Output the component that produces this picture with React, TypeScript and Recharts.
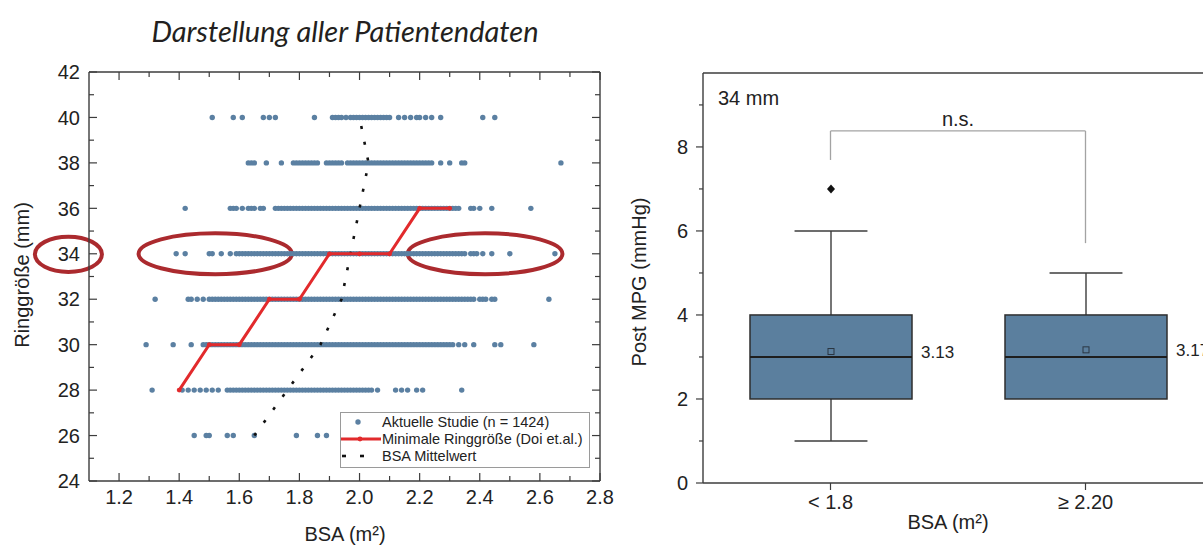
import React from 'react'
import {
  ScatterChart,
  Scatter,
  XAxis,
  YAxis,
  ReferenceArea,
  ComposedChart,
  Bar,
  ReferenceLine,
} from 'recharts'

// --- left panel: ring size vs. BSA ---
const ringSizes = [40, 38, 36, 34, 32, 30, 28, 26]

const bsa40 = [1.51, 1.58, 1.61, 1.68, 1.7, 1.72, 1.85, 1.91, 1.92, 1.93, 1.94, 1.955, 1.97, 1.98, 1.99, 2, 2.01, 2.02, 2.03, 2.04, 2.05, 2.06, 2.07, 2.08, 2.09, 2.1, 2.13, 2.15, 2.17, 2.19, 2.2, 2.22, 2.24, 2.27, 2.41, 2.45]
const bsa38 = [1.63, 1.64, 1.65, 1.69, 1.74, 1.78, 1.79, 1.8, 1.81, 1.82, 1.83, 1.84, 1.85, 1.86, 1.89, 1.9, 1.91, 1.92, 1.93, 1.94, 1.96, 1.97, 1.98, 1.99, 2, 2.01, 2.02, 2.03, 2.04, 2.05, 2.06, 2.07, 2.08, 2.09, 2.1, 2.11, 2.12, 2.13, 2.14, 2.15, 2.16, 2.17, 2.18, 2.19, 2.2, 2.21, 2.22, 2.23, 2.24, 2.27, 2.3, 2.34, 2.35, 2.67]
const bsa36 = [1.42, 1.57, 1.58, 1.59, 1.61, 1.63, 1.64, 1.65, 1.67, 1.68, 1.72, 1.73, 1.74, 1.75, 1.76, 1.77, 1.78, 1.79, 1.8, 1.81, 1.82, 1.83, 1.84, 1.85, 1.86, 1.87, 1.88, 1.89, 1.9, 1.91, 1.92, 1.93, 1.94, 1.95, 1.96, 1.97, 1.98, 1.99, 2, 2.01, 2.02, 2.03, 2.04, 2.05, 2.06, 2.07, 2.08, 2.09, 2.1, 2.11, 2.12, 2.13, 2.14, 2.15, 2.16, 2.17, 2.18, 2.19, 2.2, 2.21, 2.22, 2.23, 2.24, 2.25, 2.26, 2.27, 2.28, 2.29, 2.3, 2.31, 2.32, 2.33, 2.37, 2.38, 2.4, 2.44, 2.57]
const bsa34 = [1.39, 1.42, 1.5, 1.51, 1.54, 1.57, 1.59, 1.6, 1.61, 1.62, 1.63, 1.64, 1.65, 1.66, 1.67, 1.68, 1.69, 1.7, 1.71, 1.72, 1.73, 1.74, 1.75, 1.76, 1.77, 1.78, 1.79, 1.8, 1.81, 1.82, 1.83, 1.84, 1.85, 1.86, 1.87, 1.88, 1.89, 1.9, 1.91, 1.92, 1.93, 1.94, 1.95, 1.96, 1.97, 1.98, 1.99, 2, 2.01, 2.02, 2.03, 2.04, 2.05, 2.06, 2.07, 2.08, 2.09, 2.1, 2.11, 2.12, 2.13, 2.14, 2.15, 2.16, 2.17, 2.18, 2.19, 2.2, 2.21, 2.22, 2.23, 2.24, 2.25, 2.26, 2.27, 2.28, 2.29, 2.3, 2.31, 2.32, 2.33, 2.34, 2.35, 2.37, 2.38, 2.39, 2.41, 2.44, 2.5, 2.65]
const bsa32 = [1.32, 1.43, 1.44, 1.46, 1.48, 1.5, 1.51, 1.52, 1.53, 1.54, 1.55, 1.56, 1.57, 1.58, 1.59, 1.6, 1.61, 1.62, 1.63, 1.64, 1.65, 1.66, 1.67, 1.68, 1.69, 1.7, 1.71, 1.72, 1.73, 1.74, 1.75, 1.76, 1.77, 1.78, 1.79, 1.8, 1.81, 1.82, 1.83, 1.84, 1.85, 1.86, 1.87, 1.88, 1.89, 1.9, 1.91, 1.92, 1.93, 1.94, 1.95, 1.96, 1.97, 1.98, 1.99, 2, 2.01, 2.02, 2.03, 2.04, 2.05, 2.06, 2.07, 2.08, 2.09, 2.1, 2.11, 2.12, 2.13, 2.14, 2.15, 2.16, 2.17, 2.18, 2.19, 2.2, 2.21, 2.22, 2.23, 2.24, 2.25, 2.26, 2.27, 2.28, 2.29, 2.3, 2.31, 2.32, 2.33, 2.34, 2.35, 2.36, 2.37, 2.38, 2.4, 2.41, 2.42, 2.44, 2.45, 2.63]
const bsa30 = [1.29, 1.38, 1.44, 1.48, 1.49, 1.5, 1.51, 1.52, 1.53, 1.54, 1.55, 1.56, 1.57, 1.58, 1.59, 1.6, 1.61, 1.62, 1.63, 1.64, 1.65, 1.66, 1.67, 1.68, 1.69, 1.7, 1.71, 1.72, 1.73, 1.74, 1.75, 1.76, 1.77, 1.78, 1.79, 1.8, 1.81, 1.82, 1.83, 1.84, 1.85, 1.86, 1.87, 1.88, 1.89, 1.9, 1.91, 1.92, 1.93, 1.94, 1.95, 1.96, 1.97, 1.98, 1.99, 2, 2.01, 2.02, 2.03, 2.04, 2.05, 2.06, 2.07, 2.08, 2.09, 2.1, 2.11, 2.12, 2.13, 2.14, 2.15, 2.16, 2.17, 2.18, 2.19, 2.2, 2.21, 2.22, 2.23, 2.24, 2.25, 2.26, 2.27, 2.28, 2.29, 2.3, 2.31, 2.33, 2.35, 2.38, 2.45, 2.47, 2.58]
const bsa28 = [1.31, 1.41, 1.43, 1.45, 1.47, 1.49, 1.51, 1.53, 1.56, 1.57, 1.58, 1.59, 1.6, 1.61, 1.62, 1.63, 1.64, 1.65, 1.66, 1.67, 1.68, 1.69, 1.7, 1.71, 1.72, 1.73, 1.74, 1.75, 1.76, 1.77, 1.78, 1.79, 1.8, 1.81, 1.82, 1.83, 1.84, 1.85, 1.86, 1.87, 1.88, 1.89, 1.9, 1.91, 1.92, 1.93, 1.94, 1.95, 1.96, 1.97, 1.98, 1.99, 2, 2.01, 2.02, 2.03, 2.04, 2.06, 2.12, 2.14, 2.16, 2.19, 2.21, 2.34]
const bsa26 = [1.45, 1.49, 1.5, 1.56, 1.58, 1.65, 1.79, 1.86, 1.89]
const bsaByRing = [bsa40, bsa38, bsa36, bsa34, bsa32, bsa30, bsa28, bsa26]

// Doi et al. minimal ring size
const doiBsa = [1.4, 1.5, 1.6, 1.7, 1.8, 1.9, 2.0, 2.1, 2.2, 2.3]
const doiRing = [28, 30, 30, 32, 32, 34, 34, 34, 36, 36]

// mean BSA per ring size
const meanBsa = [1.65, 1.76, 1.87, 1.94, 1.97, 2.0, 2.03, 2.0]
const meanRing = [26, 28, 30, 32, 34, 36, 38, 40]

const xTicks = [1.2, 1.3, 1.4, 1.5, 1.6, 1.7, 1.8, 1.9, 2.0, 2.1, 2.2, 2.3, 2.4, 2.5, 2.6, 2.7, 2.8]
const yTicks = [24, 25, 26, 27, 28, 29, 30, 31, 32, 33, 34, 35, 36, 37, 38, 39, 40, 41, 42]

// highlight ellipses around ring size 34: [x1, x2, y1, y2]
const ellipses = [
  [0.92, 1.143, 33.2, 34.75],
  [1.265, 1.775, 33.1, 34.9],
  [2.16, 2.675, 33.1, 34.9],
]

// --- right panel: post MPG for 34 mm ---
const groups = ['< 1.8', '≥ 2.20']
const whiskerLow = [1, 2]
const q1 = [2, 2]
const medians = [3, 3]
const q3 = [4, 4]
const whiskerHigh = [6, 5]
const means = [3.13, 3.17]
const outliers = [[7], []]
const mpgTicks = [0, 1, 2, 3, 4, 5, 6, 7, 8, 9]
const bracketTop = 8.38
const bracketLeftEnd = 7.69
const bracketRightEnd = 5.71

const FONT = 'Arial, "Liberation Sans", sans-serif'
const AXIS = '#3c3c3c'
const DOT = '#5b80a2'
const RED = '#e22a2c'
const OVAL = '#ab2a2e'
const BOX = '#5b7f9e'

const dots = ringSizes.flatMap((r, i) => bsaByRing[i].map((b) => ({ bsa: b, ring: r })))
const doiPoints = doiBsa.map((b, i) => ({ bsa: b, ring: doiRing[i] }))
const meanPoints = meanBsa.map((b, i) => ({ bsa: b, ring: meanRing[i] }))

const boxRows = groups.map((g, i) => ({
  group: g,
  range: [whiskerLow[i], whiskerHigh[i]],
  q1: q1[i],
  median: medians[i],
  q3: q3[i],
  mean: means[i],
  outliers: outliers[i],
}))

const majorX = (v: number) => Math.round(v * 10) % 2 === 0
const majorY = (v: number) => v % 2 === 0
const nothing = () => <g />

const BottomTick = ({ x, y, payload }: any) => {
  const major = majorX(payload.value)
  return (
    <g>
      <line x1={x} x2={x} y1={y} y2={y - (major ? 8 : 5)} stroke={AXIS} strokeWidth={1.2} />
      {major && (
        <text x={x} y={y + 9} dy="0.71em" textAnchor="middle" fontFamily={FONT} fontSize={20} fill="#222">
          {payload.value.toFixed(1)}
        </text>
      )}
    </g>
  )
}

const TopTick = ({ x, y, payload }: any) => (
  <line x1={x} x2={x} y1={y} y2={y + (majorX(payload.value) ? 8 : 5)} stroke={AXIS} strokeWidth={1.2} />
)

const LeftTick = ({ x, y, payload }: any) => {
  const major = majorY(payload.value)
  return (
    <g>
      <line x1={x} x2={x + (major ? 8 : 5)} y1={y} y2={y} stroke={AXIS} strokeWidth={1.2} />
      {major && (
        <text x={x - 9} y={y} dy="0.36em" textAnchor="end" fontFamily={FONT} fontSize={20} fill="#222">
          {payload.value}
        </text>
      )}
    </g>
  )
}

const RightTick = ({ x, y, payload }: any) => (
  <line x1={x} x2={x - (majorY(payload.value) ? 8 : 5)} y1={y} y2={y} stroke={AXIS} strokeWidth={1.2} />
)

const MpgTick = ({ x, y, payload }: any) => {
  const major = majorY(payload.value)
  return (
    <g>
      <line x1={x - (major ? 7 : 4)} x2={x} y1={y} y2={y} stroke={AXIS} strokeWidth={1.2} />
      {major && (
        <text x={x - 15} y={y} dy="0.36em" textAnchor="end" fontFamily={FONT} fontSize={20} fill="#222">
          {payload.value}
        </text>
      )}
    </g>
  )
}

const GroupTick = ({ x, y, payload }: any) => (
  <g>
    <line x1={x} x2={x} y1={y} y2={y + 7} stroke={AXIS} strokeWidth={1.2} />
    <text x={x} y={y + 12} dy="0.71em" textAnchor="middle" fontFamily={FONT} fontSize={20} fill="#222">
      {payload.value}
    </text>
  </g>
)

const BoxShape = (props: any) => {
  const { x, y, width, height, payload } = props
  const top = Math.min(y, y + height)
  const h = Math.abs(height)
  const [lo, hi] = payload.range
  const k = h / (hi - lo)
  const py = (v: number) => top + (hi - v) * k
  const cx = x + width / 2
  const cap = width * 0.225
  const my = py(payload.mean)
  return (
    <g>
      <line x1={cx} x2={cx} y1={py(hi)} y2={py(payload.q3)} stroke={AXIS} strokeWidth={1.4} />
      <line x1={cx - cap} x2={cx + cap} y1={py(hi)} y2={py(hi)} stroke={AXIS} strokeWidth={1.4} />
      {lo < payload.q1 && (
        <g>
          <line x1={cx} x2={cx} y1={py(payload.q1)} y2={py(lo)} stroke={AXIS} strokeWidth={1.4} />
          <line x1={cx - cap} x2={cx + cap} y1={py(lo)} y2={py(lo)} stroke={AXIS} strokeWidth={1.4} />
        </g>
      )}
      <rect
        x={x}
        y={py(payload.q3)}
        width={width}
        height={py(payload.q1) - py(payload.q3)}
        fill={BOX}
        stroke="#2e2e2e"
        strokeWidth={1.5}
      />
      <line x1={x} x2={x + width} y1={py(payload.median)} y2={py(payload.median)} stroke="#1e1e1e" strokeWidth={2} />
      <rect x={cx - 3} y={my - 3} width={6} height={6} fill="none" stroke="#2a3642" strokeWidth={1} />
      <text x={x + width + 9} y={my} dy="0.36em" fontFamily={FONT} fontSize={17} fill="#222">
        {payload.mean.toFixed(2)}
      </text>
      {payload.outliers.map((o: number) => (
        <path
          key={o}
          d={`M${cx},${py(o) - 4.5}L${cx + 4},${py(o)}L${cx},${py(o) + 4.5}L${cx - 4},${py(o)}Z`}
          fill="#111"
        />
      ))}
    </g>
  )
}

const Ellipse = (p: any) => (
  <ellipse
    cx={p.x + p.width / 2}
    cy={p.y + p.height / 2}
    rx={Math.abs(p.width) / 2}
    ry={Math.abs(p.height) / 2}
    fill="none"
    stroke={OVAL}
    strokeWidth={4}
  />
)

export default function App() {
  return (
    <div
      style={{
        position: 'fixed',
        left: 0,
        top: 0,
        width: 1203,
        height: 545,
        overflow: 'hidden',
        background: '#fff',
        fontFamily: FONT,
      }}
    >
      <div style={{ position: 'absolute', left: 0, top: 0 }}>
        <ScatterChart width={620} height={545} margin={{ top: 71, right: 19, bottom: 24, left: 30 }}>
          <XAxis
            type="number"
            dataKey="bsa"
            domain={[1.1, 2.8]}
            ticks={xTicks}
            allowDataOverflow
            height={40}
            tickSize={0}
            tickMargin={0}
            tick={BottomTick}
            tickLine={false}
            axisLine={{ stroke: AXIS, strokeWidth: 1.4 }}
            interval={0}
          />
          <XAxis
            xAxisId="top"
            orientation="top"
            type="number"
            dataKey="bsa"
            domain={[1.1, 2.8]}
            ticks={xTicks}
            allowDataOverflow
            height={1}
            tickSize={0}
            tickMargin={0}
            tick={TopTick}
            tickLine={false}
            axisLine={{ stroke: AXIS, strokeWidth: 1.4 }}
            interval={0}
          />
          <YAxis
            type="number"
            dataKey="ring"
            domain={[24, 42]}
            ticks={yTicks}
            allowDataOverflow
            width={59}
            tickSize={0}
            tickMargin={0}
            tick={LeftTick}
            tickLine={false}
            axisLine={{ stroke: AXIS, strokeWidth: 1.4 }}
            interval={0}
          />
          <YAxis
            yAxisId="right"
            orientation="right"
            type="number"
            dataKey="ring"
            domain={[24, 42]}
            ticks={yTicks}
            allowDataOverflow
            width={1}
            tickSize={0}
            tickMargin={0}
            tick={RightTick}
            tickLine={false}
            axisLine={{ stroke: AXIS, strokeWidth: 1.4 }}
            interval={0}
          />
          {/* invisible series so the mirrored frame axes get drawn */}
          <Scatter data={meanPoints} xAxisId="top" yAxisId="right" isAnimationActive={false} shape={nothing} />
          <Scatter
            data={dots}
            isAnimationActive={false}
            shape={(p: any) => <circle cx={p.cx} cy={p.cy} r={2.7} fill={DOT} />}
          />
          <Scatter
            data={meanPoints}
            isAnimationActive={false}
            line={{ stroke: '#111', strokeWidth: 2.6, strokeDasharray: '3 13' }}
            shape={nothing}
          />
          <Scatter
            data={doiPoints}
            isAnimationActive={false}
            fill={RED}
            line={{ stroke: RED, strokeWidth: 3 }}
            shape={(p: any) => <circle cx={p.cx} cy={p.cy} r={2.4} fill={RED} />}
          />
          {ellipses.map(([x1, x2, y1, y2], i) => (
            <ReferenceArea key={i} x1={x1} x2={x2} y1={y1} y2={y2} ifOverflow="visible" shape={Ellipse} />
          ))}
        </ScatterChart>
      </div>

      <div style={{ position: 'absolute', left: 620, top: 0 }}>
        <ComposedChart width={620} height={545} data={boxRows} margin={{ top: 72, right: 26, bottom: 22, left: 33 }}>
          <XAxis
            dataKey="group"
            height={40}
            tickSize={0}
            tickMargin={0}
            tick={GroupTick}
            tickLine={false}
            axisLine={{ stroke: AXIS, strokeWidth: 1.4 }}
            interval={0}
          />
          <XAxis
            xAxisId="top"
            orientation="top"
            dataKey="group"
            height={1}
            tick={false}
            tickLine={false}
            axisLine={{ stroke: AXIS, strokeWidth: 1.4 }}
          />
          <YAxis
            type="number"
            domain={[0, 9.76]}
            ticks={mpgTicks}
            allowDataOverflow
            width={50}
            tickSize={0}
            tickMargin={0}
            tick={MpgTick}
            tickLine={false}
            axisLine={{ stroke: AXIS, strokeWidth: 1.4 }}
            interval={0}
          />
          <YAxis
            yAxisId="right"
            orientation="right"
            type="number"
            domain={[0, 9.76]}
            allowDataOverflow
            width={1}
            tick={false}
            tickLine={false}
            axisLine={{ stroke: AXIS, strokeWidth: 1.4 }}
          />
          <Scatter dataKey="mean" xAxisId="top" yAxisId="right" isAnimationActive={false} shape={nothing} />
          <Bar dataKey="range" barSize={162} isAnimationActive={false} shape={BoxShape} />
          <ReferenceLine
            segment={[
              { x: groups[0], y: bracketTop },
              { x: groups[1], y: bracketTop },
            ]}
            stroke="#a3a3a3"
            strokeWidth={1.3}
            label={{ value: 'n.s.', position: 'top', offset: 5, fill: '#222', fontSize: 20, fontFamily: FONT }}
          />
          <ReferenceLine
            segment={[
              { x: groups[0], y: bracketTop },
              { x: groups[0], y: bracketLeftEnd },
            ]}
            stroke="#a3a3a3"
            strokeWidth={1.3}
          />
          <ReferenceLine
            segment={[
              { x: groups[1], y: bracketTop },
              { x: groups[1], y: bracketRightEnd },
            ]}
            stroke="#a3a3a3"
            strokeWidth={1.3}
          />
        </ComposedChart>
      </div>

      <svg
        width={1203}
        height={545}
        style={{ position: 'absolute', left: 0, top: 0, pointerEvents: 'none' }}
      >
        <text
          x={345}
          y={42}
          textAnchor="middle"
          fontFamily="Lato, sans-serif"
          fontStyle="italic"
          fontSize={29}
          fill="#231f20"
        >
          Darstellung aller Patientendaten
        </text>
        <text transform="translate(29,275) rotate(-90)" textAnchor="middle" fontFamily={FONT} fontSize={20} fill="#222">
          Ringgröße (mm)
        </text>
        <text x={345} y={541} textAnchor="middle" fontFamily={FONT} fontSize={20} fill="#222">
          BSA (m²)
        </text>
        <text transform="translate(646,282) rotate(-90)" textAnchor="middle" fontFamily={FONT} fontSize={20} fill="#222">
          Post MPG (mmHg)
        </text>
        <text x={948} y={529} textAnchor="middle" fontFamily={FONT} fontSize={20} fill="#222">
          BSA (m²)
        </text>
        <text x={718} y={105} fontFamily={FONT} fontSize={20} fill="#222">
          34 mm
        </text>

        <g fontFamily={FONT} fontSize={14.5} fill="#222">
          <rect x={340.5} y={412.5} width={249} height={55} fill="#fff" stroke="#9a9a9a" strokeWidth={1} />
          <circle cx={358} cy={422} r={2.7} fill={DOT} />
          <text x={382} y={427}>Aktuelle Studie (n = 1424)</text>
          <line x1={341} x2={381} y1={439} y2={439} stroke={RED} strokeWidth={3} />
          <circle cx={360} cy={439} r={2.4} fill={RED} />
          <text x={382} y={444}>Minimale Ringgröße (Doi et.al.)</text>
          <line x1={342} x2={346} y1={456} y2={456} stroke="#111" strokeWidth={2.6} />
          <line x1={360} x2={364} y1={456} y2={456} stroke="#111" strokeWidth={2.6} />
          <text x={382} y={461}>BSA Mittelwert</text>
        </g>
      </svg>
    </div>
  )
}
